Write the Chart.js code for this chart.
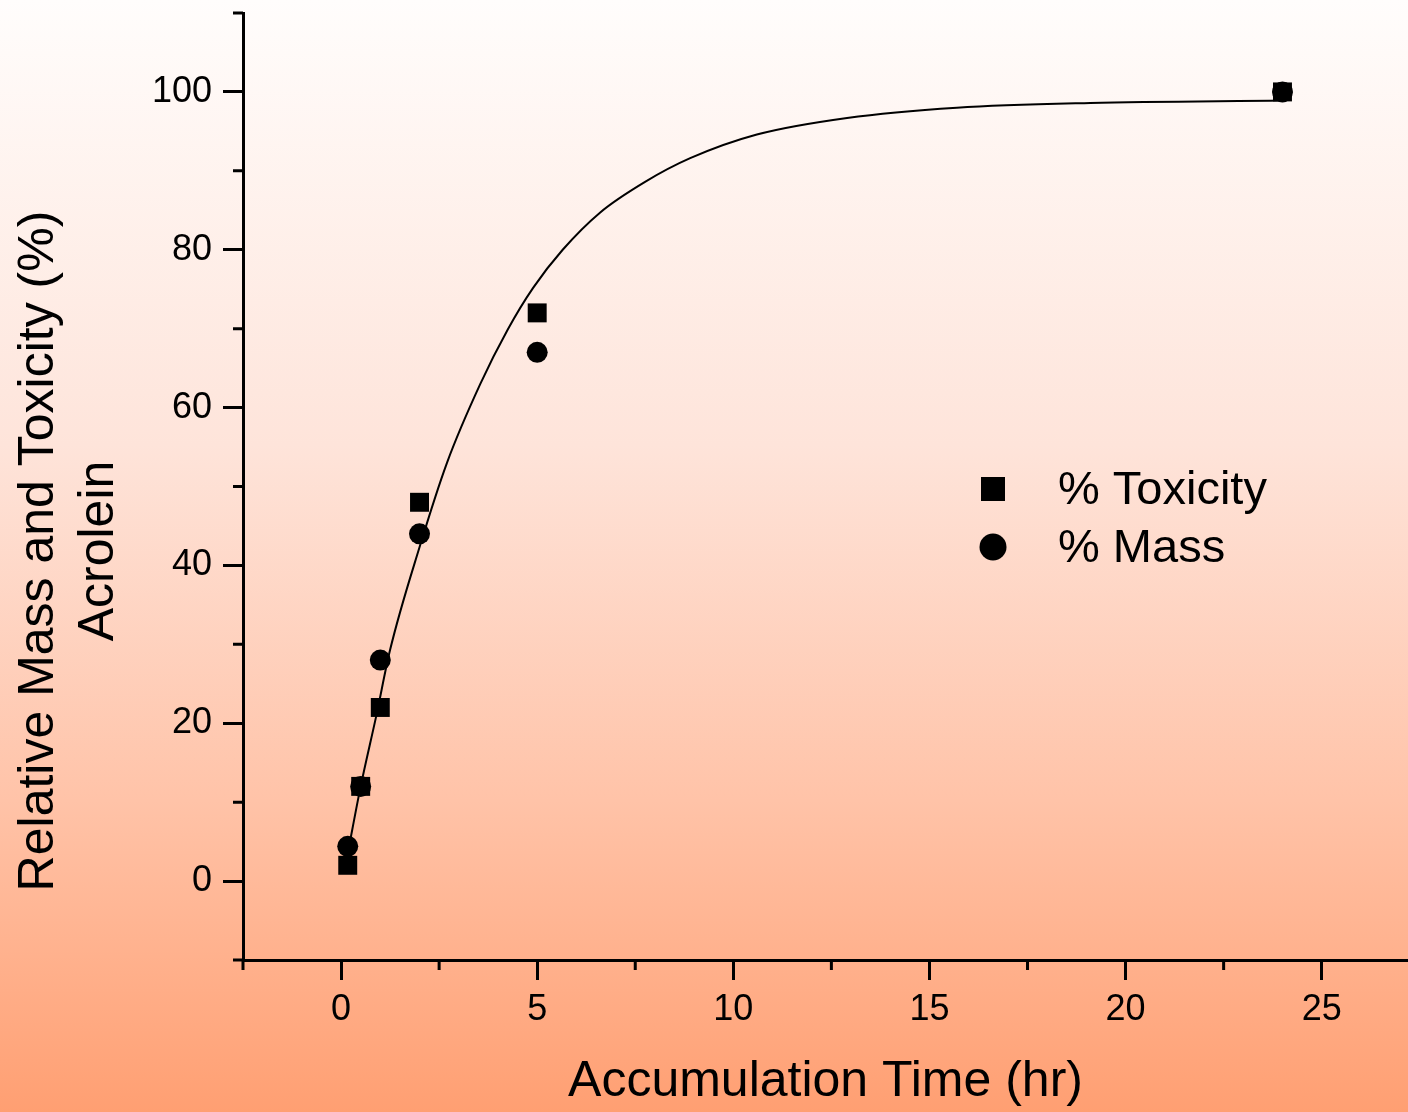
<!DOCTYPE html>
<html>
<head>
<meta charset="utf-8">
<script src="https://cdn.jsdelivr.net/npm/chart.js@4.4.1/dist/chart.umd.min.js"></script>
<style>
  html, body { margin: 0; padding: 0; }
  body {
    width: 1408px; height: 1112px; overflow: hidden;
    background: linear-gradient(to bottom, #fffdfc 0%, #fee4da 40%, #ffc3a8 72%, #ff9f72 100%);
  }
  canvas { display: block; }
</style>
</head>
<body>
<canvas id="grafico" width="1408" height="1112"></canvas>
<script>
  // measured points (hr, %)
  const toxTime = [0.17, 0.5, 1, 2, 5, 24];
  const toxValues = [2, 12, 22, 48, 72, 100];
  const massTime = [0.17, 0.5, 1, 2, 5, 24];
  const massValues = [4.4, 12, 28, 44, 67, 100];

  // fitted curve
  const fitTime = [0.17, 0.5, 0.9, 1.25, 2, 2.7, 3.55, 4.25, 4.9, 5.65, 6.6, 7.75, 8.9, 10.6, 12.9, 15.7, 19.1, 24];
  const fitValues = [3.5, 12, 21, 29.3, 42.3, 53, 63, 69.9, 75.2, 80, 84.7, 88.6, 91.6, 94.6, 96.7, 98, 98.6, 98.9];

  const xMajorTicks = [0, 5, 10, 15, 20, 25];
  const xMinorTicks = [-2.5, 2.5, 7.5, 12.5, 17.5, 22.5];
  const yMajorTicks = [0, 20, 40, 60, 80, 100];
  const yMinorTicks = [-10, 10, 30, 50, 70, 90, 110];

  const yTitle = ['Relative Mass and Toxicity (%)', 'Acrolein'];
  const xTitle = 'Accumulation Time (hr)';

  const FONT = "'Liberation Sans', Arial, sans-serif";
  const pts = (xs, ys) => xs.map((x, i) => ({ x, y: ys[i] }));

  const extras = {
    id: 'extras',
    afterDraw(chart) {
      const { ctx, scales: { x, y } } = chart;
      ctx.save();
      ctx.strokeStyle = '#000';
      ctx.lineWidth = 3;
      ctx.beginPath();
      xMinorTicks.forEach(v => {
        const px = x.getPixelForValue(v);
        ctx.moveTo(px, x.top); ctx.lineTo(px, x.top + 10);
      });
      yMinorTicks.forEach(v => {
        const py = y.getPixelForValue(v);
        ctx.moveTo(y.right - 10, py); ctx.lineTo(y.right, py);
      });
      ctx.stroke();

      // y title, two lines, rotated
      ctx.fillStyle = '#000';
      ctx.font = '50px ' + FONT;
      ctx.textAlign = 'center';
      ctx.textBaseline = 'alphabetic';
      ctx.translate(0, 551);
      ctx.rotate(-Math.PI / 2);
      ctx.fillText(yTitle[0], 0, 53);
      ctx.fillText(yTitle[1], 0, 113);
      ctx.restore();

      // legend inside the plot
      ctx.save();
      ctx.fillStyle = '#000';
      ctx.fillRect(993 - 12, 489 - 12, 24, 24);
      ctx.beginPath();
      ctx.arc(993, 547, 13.5, 0, Math.PI * 2);
      ctx.fill();
      ctx.font = '47px ' + FONT;
      ctx.textAlign = 'left';
      ctx.textBaseline = 'middle';
      ctx.fillText(chart.data.datasets[1].label, 1058, 491);
      ctx.fillText(chart.data.datasets[0].label, 1058, 549);
      ctx.restore();
    }
  };

  const ctx = document.getElementById('grafico').getContext('2d');
  new Chart(ctx, {
    type: 'scatter',
    data: {
      datasets: [
        { label: '% Mass', data: pts(massTime, massValues), pointStyle: 'circle', pointRadius: 10.5,
          backgroundColor: '#000', borderColor: '#000', borderWidth: 0 },
        { label: '% Toxicity', data: pts(toxTime, toxValues), pointStyle: 'rect', pointRadius: 13.4,
          backgroundColor: '#000', borderColor: '#000', borderWidth: 0 },
        { label: 'fit', type: 'line', data: pts(fitTime, fitValues), showLine: true, pointRadius: 0,
          borderColor: '#000', borderWidth: 2, cubicInterpolationMode: 'monotone', fill: false }
      ]
    },
    options: {
      responsive: false,
      animation: false,
      layout: { autoPadding: false, padding: { top: 13, right: 0, left: 0, bottom: 0 } },
      plugins: { legend: { display: false }, tooltip: { enabled: false } },
      scales: {
        x: {
          type: 'linear', min: -2.5, max: 27.2,
          afterBuildTicks: s => { s.ticks = xMajorTicks.map(v => ({ value: v })); },
          afterFit: s => { s.height = 152; s.paddingLeft = 0; s.paddingRight = 0; },
          grid: { drawOnChartArea: false, tickLength: 20, tickWidth: 3, tickColor: '#000' },
          border: { display: true, width: 3, color: '#000' },
          ticks: { color: '#000', font: { family: FONT, size: 36 }, padding: 8, maxRotation: 0 },
          title: { display: true, text: xTitle, color: '#000', font: { family: FONT, size: 50, lineHeight: 1.2 },
                   padding: { top: 0, bottom: 0 } }
        },
        y: {
          type: 'linear', min: -10, max: 110,
          afterBuildTicks: s => { s.ticks = yMajorTicks.map(v => ({ value: v })); },
          afterFit: s => { s.width = 243; s.paddingTop = 0; s.paddingBottom = 0; },
          grid: { drawOnChartArea: false, tickLength: 20, tickWidth: 3, tickColor: '#000' },
          border: { display: true, width: 3, color: '#000' },
          ticks: { color: '#000', font: { family: FONT, size: 36 }, padding: 11 }
        }
      }
    },
    plugins: [extras]
  });
</script>
</body>
</html>
